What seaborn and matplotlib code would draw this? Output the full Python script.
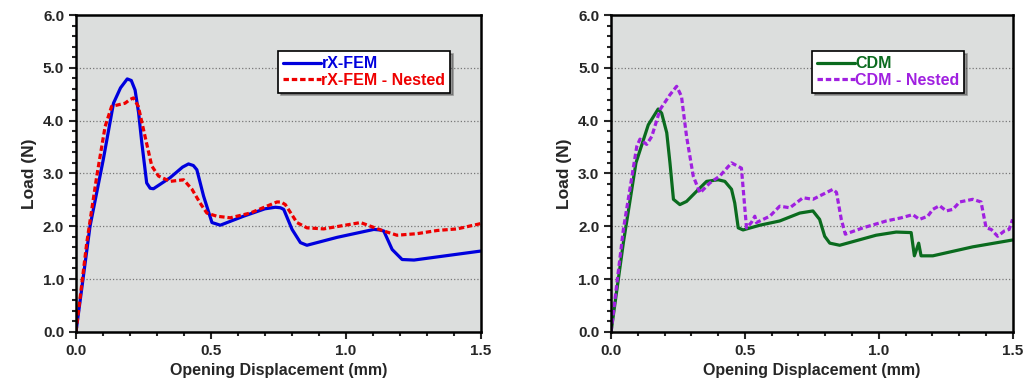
import matplotlib
matplotlib.use('Agg')
import matplotlib.pyplot as plt
from matplotlib.ticker import MultipleLocator, FormatStrFormatter
import seaborn as sns
import numpy as np

#%% data
xfem_x = [0, 0.052, 0.101, 0.139, 0.165, 0.19, 0.205, 0.219, 0.232, 0.244, 0.262, 0.275, 0.287,
          0.349, 0.395, 0.417, 0.435, 0.448, 0.473, 0.504, 0.535, 0.621, 0.700, 0.739, 0.758,
          0.77, 0.801, 0.832, 0.856, 0.968, 1.104, 1.125, 1.141, 1.172, 1.209, 1.253, 1.5]
xfem_y = [0, 2.0, 3.26, 4.33, 4.62, 4.79, 4.76, 4.58, 4.15, 3.58, 2.82, 2.72, 2.71,
          2.92, 3.12, 3.18, 3.15, 3.07, 2.57, 2.07, 2.02, 2.19, 2.33, 2.36, 2.35,
          2.32, 1.94, 1.69, 1.64, 1.79, 1.94, 1.93, 1.91, 1.56, 1.37, 1.36, 1.53]

xfem_n_x = [0, 0.04, 0.077, 0.108, 0.132, 0.182, 0.200, 0.213, 0.231, 0.256, 0.281, 0.306, 0.349,
            0.399, 0.43, 0.46, 0.485, 0.522, 0.572, 0.646, 0.745, 0.760, 0.776, 0.819, 0.856, 0.918,
            1.055, 1.092, 1.141, 1.19, 1.265, 1.339, 1.413, 1.5]
xfem_n_y = [0, 1.69, 2.95, 3.89, 4.27, 4.33, 4.40, 4.43, 4.27, 3.70, 3.14, 2.95, 2.85,
            2.88, 2.70, 2.44, 2.25, 2.19, 2.16, 2.25, 2.46, 2.46, 2.41, 2.07, 1.97, 1.95,
            2.07, 2.0, 1.91, 1.83, 1.86, 1.92, 1.95, 2.05]

cdm_x = [0, 0.046, 0.093, 0.139, 0.176, 0.189, 0.208, 0.22, 0.233, 0.257, 0.282, 0.319,
         0.357, 0.40, 0.425, 0.45, 0.462, 0.475, 0.493, 0.556, 0.63, 0.705, 0.754, 0.779,
         0.798, 0.817, 0.854, 0.99, 1.065, 1.121, 1.133, 1.149, 1.158, 1.202, 1.351, 1.5]
cdm_y = [0, 1.69, 3.20, 3.92, 4.22, 4.14, 3.77, 3.20, 2.51, 2.41, 2.47, 2.66,
         2.85, 2.88, 2.85, 2.70, 2.44, 1.97, 1.93, 2.02, 2.10, 2.25, 2.29, 2.13,
         1.81, 1.68, 1.64, 1.83, 1.89, 1.88, 1.44, 1.68, 1.44, 1.44, 1.61, 1.74]

cdm_n_x = [0, 0.046, 0.096, 0.108, 0.133, 0.152, 0.183, 0.22, 0.245, 0.263, 0.282, 0.307,
           0.332, 0.369, 0.406, 0.45, 0.487, 0.50, 0.506, 0.524, 0.537, 0.543, 0.593, 0.63,
           0.668, 0.717, 0.754, 0.829, 0.842, 0.86, 0.875, 0.941, 1.028, 1.084, 1.127, 1.152,
           1.183, 1.202, 1.227, 1.252, 1.277, 1.302, 1.351, 1.382, 1.401, 1.42, 1.444, 1.469,
           1.487, 1.5]
cdm_n_y = [0, 1.94, 3.51, 3.65, 3.55, 3.70, 4.21, 4.49, 4.65, 4.46, 3.70, 2.95,
           2.63, 2.82, 2.95, 3.20, 3.10, 2.32, 1.97, 2.07, 2.19, 2.07, 2.19, 2.38,
           2.35, 2.54, 2.51, 2.70, 2.64, 2.13, 1.85, 1.97, 2.10, 2.16, 2.22, 2.13,
           2.19, 2.32, 2.39, 2.29, 2.32, 2.46, 2.51, 2.46, 1.97, 1.94, 1.81, 1.91,
           1.94, 2.13]

#%% style
sns.set_style('ticks')
plt.rcParams['font.family'] = ['Liberation Sans', 'DejaVu Sans']
plt.rcParams['font.weight'] = 'bold'

fig = plt.figure(figsize=(10.27, 3.85), dpi=100)
ax1 = fig.add_axes([0.074, 0.138, 0.394, 0.823])
ax2 = fig.add_axes([0.595, 0.138, 0.391, 0.823])

short_dash = (0, (1.7, 0.9))
panels = [
    (ax1, [(xfem_x, xfem_y, 'rX-FEM', '#0000dd', '-'),
           (xfem_n_x, xfem_n_y, 'rX-FEM - Nested', '#ee0000', short_dash)]),
    (ax2, [(cdm_x, cdm_y, 'CDM', '#0a6b1e', '-'),
           (cdm_n_x, cdm_n_y, 'CDM - Nested', '#a020e0', short_dash)]),
]

for ax, lines in panels:
    ax.set_facecolor('#dcdedd')
    for xs, ys, lab, col, ls in lines:
        sns.lineplot(x=xs, y=ys, ax=ax, color=col, linestyle=ls, linewidth=2.3,
                     label=lab, sort=False, estimator=None,
                     solid_joinstyle='round', dash_joinstyle='round')
    ax.set_xlim(0, 1.5)
    ax.set_ylim(0, 6)
    ax.xaxis.set_major_locator(MultipleLocator(0.5))
    ax.xaxis.set_minor_locator(MultipleLocator(0.1))
    ax.yaxis.set_major_locator(MultipleLocator(1.0))
    ax.yaxis.set_minor_locator(MultipleLocator(0.2))
    ax.xaxis.set_major_formatter(FormatStrFormatter('%.1f'))
    ax.yaxis.set_major_formatter(FormatStrFormatter('%.1f'))
    ax.tick_params(which='major', direction='out', length=5, width=1.5, labelsize=11)
    ax.tick_params(which='minor', direction='out', length=3, width=1.5)
    for lbl in ax.get_xticklabels() + ax.get_yticklabels():
        lbl.set_fontweight('bold')
    for sp in ax.spines.values():
        sp.set_visible(True)
        sp.set_linewidth(1.8)
        sp.set_color('black')
    for yv in [1, 2, 3, 4, 5]:
        ax.axhline(yv, color='#777777', linestyle=':', linewidth=0.9, zorder=0)
    ax.set_xlabel('Opening Displacement (mm)', fontsize=11.5, fontweight='bold')
    ax.set_ylabel('Load (N)', fontsize=12.5, fontweight='bold')

    leg = ax.legend(loc='upper left', bbox_to_anchor=(0.5, 0.885), frameon=True,
                    fancybox=False, shadow=True, edgecolor='black', framealpha=1,
                    handlelength=2.4, handletextpad=0.0, borderpad=0.3,
                    labelspacing=0.1, fontsize=11.5, borderaxespad=0)
    leg.get_frame().set_linewidth(1.2)
    for txt, (_, _, _, col, _) in zip(leg.get_texts(), lines):
        txt.set_color(col)
        txt.set_fontweight('bold')

plt.savefig('out.png', dpi=100)
